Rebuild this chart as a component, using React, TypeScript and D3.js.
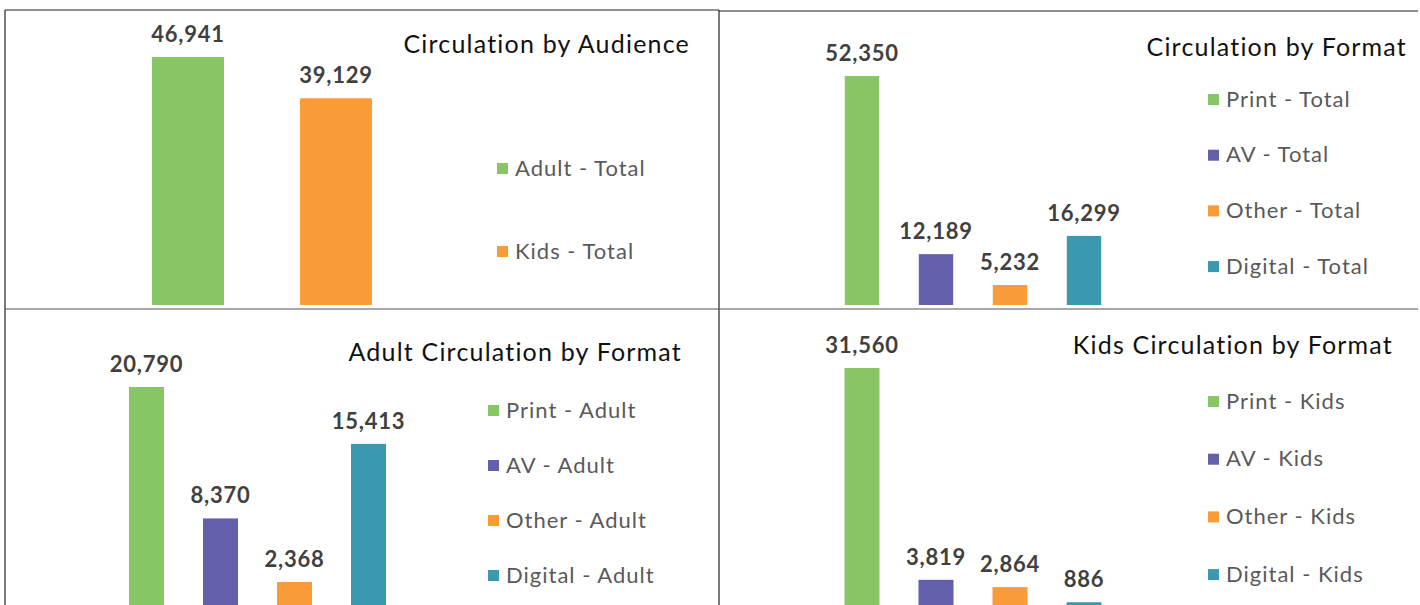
import React from "react";
import * as d3 from "d3";

// ---- data ----
const audienceCategories = ["Adult - Total", "Kids - Total"];
const audienceValues = [46941, 39129];

const formatCategories = ["Print - Total", "AV - Total", "Other - Total", "Digital - Total"];
const formatValues = [52350, 12189, 5232, 16299];

const adultCategories = ["Print - Adult", "AV - Adult", "Other - Adult", "Digital - Adult"];
const adultValues = [20790, 8370, 2368, 15413];

const kidsCategories = ["Print - Kids", "AV - Kids", "Other - Kids", "Digital - Kids"];
const kidsValues = [31560, 3819, 2864, 886];

const titles = [
  "Circulation by Audience",
  "Circulation by Format",
  "Adult Circulation by Format",
  "Kids Circulation by Format",
];

// ---- styles ----
const GREEN = "#86c664";
const PURPLE = "#635fab";
const ORANGE = "#f99b38";
const TEAL = "#3a99af";

const FONT = "Lato, 'Open Sans', sans-serif";

type Panel = {
  title: string;
  cats: string[];
  vals: number[];
  colors: string[];
  clip: [number, number, number, number];
  xRange: [number, number];
  padding: number;
  yMinVal: number;
  yBottom: number;
  yTopOfMax: number;
  titleX: number;
  titleY: number;
  legendX: number;
  legendY0: number;
  legendStep: number;
};

const panels: Panel[] = [
  {
    title: titles[0],
    cats: audienceCategories,
    vals: audienceValues,
    colors: [GREEN, ORANGE],
    clip: [5, 10, 719, 305],
    xRange: [114, 410],
    padding: 0.514,
    yMinVal: 0,
    yBottom: 305,
    yTopOfMax: 57,
    titleX: 690,
    titleY: 53,
    legendX: 497,
    legendY0: 168,
    legendStep: 83,
  },
  {
    title: titles[1],
    cats: formatCategories,
    vals: formatValues,
    colors: [GREEN, PURPLE, ORANGE, TEAL],
    clip: [719, 10, 1418, 305],
    xRange: [825, 1121],
    padding: 0.535,
    yMinVal: 723,
    yBottom: 305,
    yTopOfMax: 76,
    titleX: 1407,
    titleY: 56,
    legendX: 1208,
    legendY0: 99,
    legendStep: 55.7,
  },
  {
    title: titles[2],
    cats: adultCategories,
    vals: adultValues,
    colors: [GREEN, PURPLE, ORANGE, TEAL],
    clip: [5, 310, 719, 605],
    xRange: [109.5, 405.5],
    padding: 0.527,
    yMinVal: 0,
    yBottom: 607,
    yTopOfMax: 387,
    titleX: 682,
    titleY: 361,
    legendX: 488,
    legendY0: 410,
    legendStep: 55,
  },
  {
    title: titles[3],
    cats: kidsCategories,
    vals: kidsValues,
    colors: [GREEN, PURPLE, ORANGE, TEAL],
    clip: [719, 310, 1418, 605],
    xRange: [825, 1121],
    padding: 0.527,
    yMinVal: 0,
    yBottom: 609,
    yTopOfMax: 368,
    titleX: 1393,
    titleY: 354,
    legendX: 1208,
    legendY0: 401,
    legendStep: 57.7,
  },
];

const fmt = d3.format(",");

function PanelView({ p, idx }: { p: Panel; idx: number }) {
  const x = d3
    .scaleBand<string>()
    .domain(p.cats)
    .range(p.xRange)
    .paddingInner(p.padding)
    .paddingOuter(p.padding / 2);
  const maxV = d3.max(p.vals) as number;
  const y = d3.scaleLinear().domain([p.yMinVal, maxV]).range([p.yBottom, p.yTopOfMax]);
  const [cx0, cy0, cx1, cy1] = p.clip;
  const clipId = `clip${idx}`;
  return (
    <g>
      <defs>
        <clipPath id={clipId}>
          <rect x={cx0} y={cy0} width={cx1 - cx0} height={cy1 - cy0} />
        </clipPath>
      </defs>
      <g clipPath={`url(#${clipId})`}>
        {p.cats.map((c, i) => {
          const top = y(p.vals[i]);
          return (
            <rect
              key={c}
              x={x(c)}
              y={top}
              width={x.bandwidth()}
              height={Math.max(0, 700 - top)}
              fill={p.colors[i]}
            />
          );
        })}
      </g>
      {p.cats.map((c, i) => (
        <text
          key={"l" + c}
          x={(x(c) as number) + x.bandwidth() / 2}
          y={y(p.vals[i]) - 15}
          textAnchor="middle"
          fontFamily={FONT}
          fontWeight={700}
          fontSize={22}
          letterSpacing={0.8}
          fill="#404040"
        >
          {fmt(p.vals[i])}
        </text>
      ))}
      <text
        x={p.titleX}
        y={p.titleY}
        textAnchor="end"
        fontFamily={FONT}
        fontSize={25}
        letterSpacing={1.2}
        fill="#111"
      >
        {p.title}
      </text>
      {p.cats.map((c, i) => {
        const cy = p.legendY0 + i * p.legendStep;
        return (
          <g key={"g" + c}>
            <rect x={p.legendX} y={cy - 5} width={11} height={11} fill={p.colors[i]} />
            <text
              x={p.legendX + 18}
              y={cy}
              dy="0.35em"
              fontFamily={FONT}
              fontSize={22}
              letterSpacing={1}
              fill="#595959"
            >
              {c}
            </text>
          </g>
        );
      })}
    </g>
  );
}

export default function App() {
  return (
    <svg
      width={1420}
      height={605}
      style={{ position: "absolute", left: 0, top: 0, background: "#fff" }}
    >
      <rect x={0} y={0} width={1420} height={605} fill="#fff" />
      {panels.map((p, i) => (
        <PanelView key={i} p={p} idx={i} />
      ))}
      <g stroke="#222" strokeWidth={1.2} fill="none">
        <line x1={5} y1={10} x2={719} y2={10} />
        <line x1={719} y1={11} x2={1418} y2={11} />
        <line x1={5} y1={10} x2={5} y2={605} />
        <line x1={719} y1={10} x2={719} y2={605} />
        <line x1={5} y1={309} x2={1418} y2={309} stroke="#555" />
      </g>
    </svg>
  );
}
